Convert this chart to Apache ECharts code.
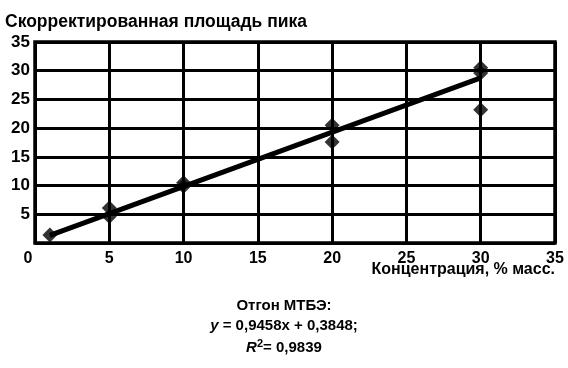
<!DOCTYPE html>
<html><head><meta charset="utf-8">
<script src="https://cdn.jsdelivr.net/npm/echarts@6/dist/echarts.min.js"></script>
<style>html,body{margin:0;padding:0;background:#fff}#c{width:568px;height:368px}</style>
</head><body><div id="c"></div>
<script>
// data
const pointsX = [1, 5, 5, 10, 10, 20, 20, 30, 30, 30];
const pointsY = [1.4, 6.1, 4.6, 10.5, 9.9, 20.5, 17.6, 30.5, 29.6, 23.2];
const trendX = [1, 30];
const trendY = [1.33, 28.76];
const xTicks = [0, 5, 10, 15, 20, 25, 30, 35];
const yTicks = [0, 5, 10, 15, 20, 25, 30, 35];
const titleText = 'Скорректированная площадь пика';
const xName = 'Концентрация, % масс.';
const noteLines = ['Отгон МТБЭ:', 'y = 0,9458x + 0,3848;', 'R² = 0,9839'];

const FONT = 'Liberation Sans';
const chart = echarts.init(document.getElementById('c'), null, {renderer: 'canvas'});
chart.setOption({
  animation: false,
  backgroundColor: '#fff',
  grid: {left: 35, right: 13, top: 42, bottom: 125, show: true, borderColor: '#000', borderWidth: 3.5},
  xAxis: {
    type: 'value', min: xTicks[0], max: xTicks[xTicks.length - 1], interval: 5,
    axisLine: {show: false}, axisTick: {show: false},
    splitLine: {show: true, lineStyle: {color: '#000', width: 3}},
    axisLabel: {
      margin: 8, color: '#000', fontFamily: FONT, fontWeight: 'bold', fontSize: 16,
      formatter: v => v === 0 ? '{z|0}' : String(v),
      rich: {z: {padding: [0, 14, 0, 0], fontFamily: FONT, fontWeight: 'bold', fontSize: 16, color: '#000'}}
    }
  },
  yAxis: {
    type: 'value', min: yTicks[0], max: yTicks[yTicks.length - 1], interval: 5,
    axisLine: {show: false}, axisTick: {show: false},
    splitLine: {show: true, lineStyle: {color: '#000', width: 3}},
    axisLabel: {
      margin: 5, color: '#000', fontFamily: FONT, fontWeight: 'bold', fontSize: 17,
      formatter: v => v === 0 ? '' : String(v)
    }
  },
  series: [
    {
      type: 'line', data: trendX.map((x, i) => [x, trendY[i]]),
      showSymbol: false, lineStyle: {color: '#000', width: 5}, z: 3
    },
    {
      type: 'scatter', data: pointsX.map((x, i) => [x, pointsY[i]]),
      symbol: 'diamond', symbolSize: 15, itemStyle: {color: '#000'}, z: 4
    }
  ],
  graphic: [
    {type: 'text', left: 5, top: 13, style: {text: titleText, fill: '#000', font: 'bold 17.5px "Liberation Sans"'}},
    {type: 'text', right: 13, top: 262, style: {text: xName, fill: '#000', font: 'bold 16px "Liberation Sans"'}},
    {type: 'text', left: 'center', top: 298, style: {text: noteLines[0], fill: '#000', font: 'bold 15px "Liberation Sans"'}},
    {type: 'text', left: 'center', top: 318, style: {
      text: '{i|y} = 0,9458x + 0,3848;', fill: '#000', font: 'bold 15px "Liberation Sans"',
      rich: {i: {fontStyle: 'italic', fontWeight: 'bold', fontSize: 15, fontFamily: FONT, fill: '#000'}}
    }},
    {type: 'text', left: 'center', top: 338, style: {
      text: '{i|R}{s|2}= 0,9839', fill: '#000', font: 'bold 15px "Liberation Sans"',
      rich: {i: {fontStyle: 'italic', fontWeight: 'bold', fontSize: 15, fontFamily: FONT, fill: '#000'},
             s: {fontWeight: 'bold', fontSize: 11, fontFamily: FONT, fill: '#000', verticalAlign: 'top', padding: [0, 0, 8, 0]}}
    }}
  ]
});
</script></body></html>
